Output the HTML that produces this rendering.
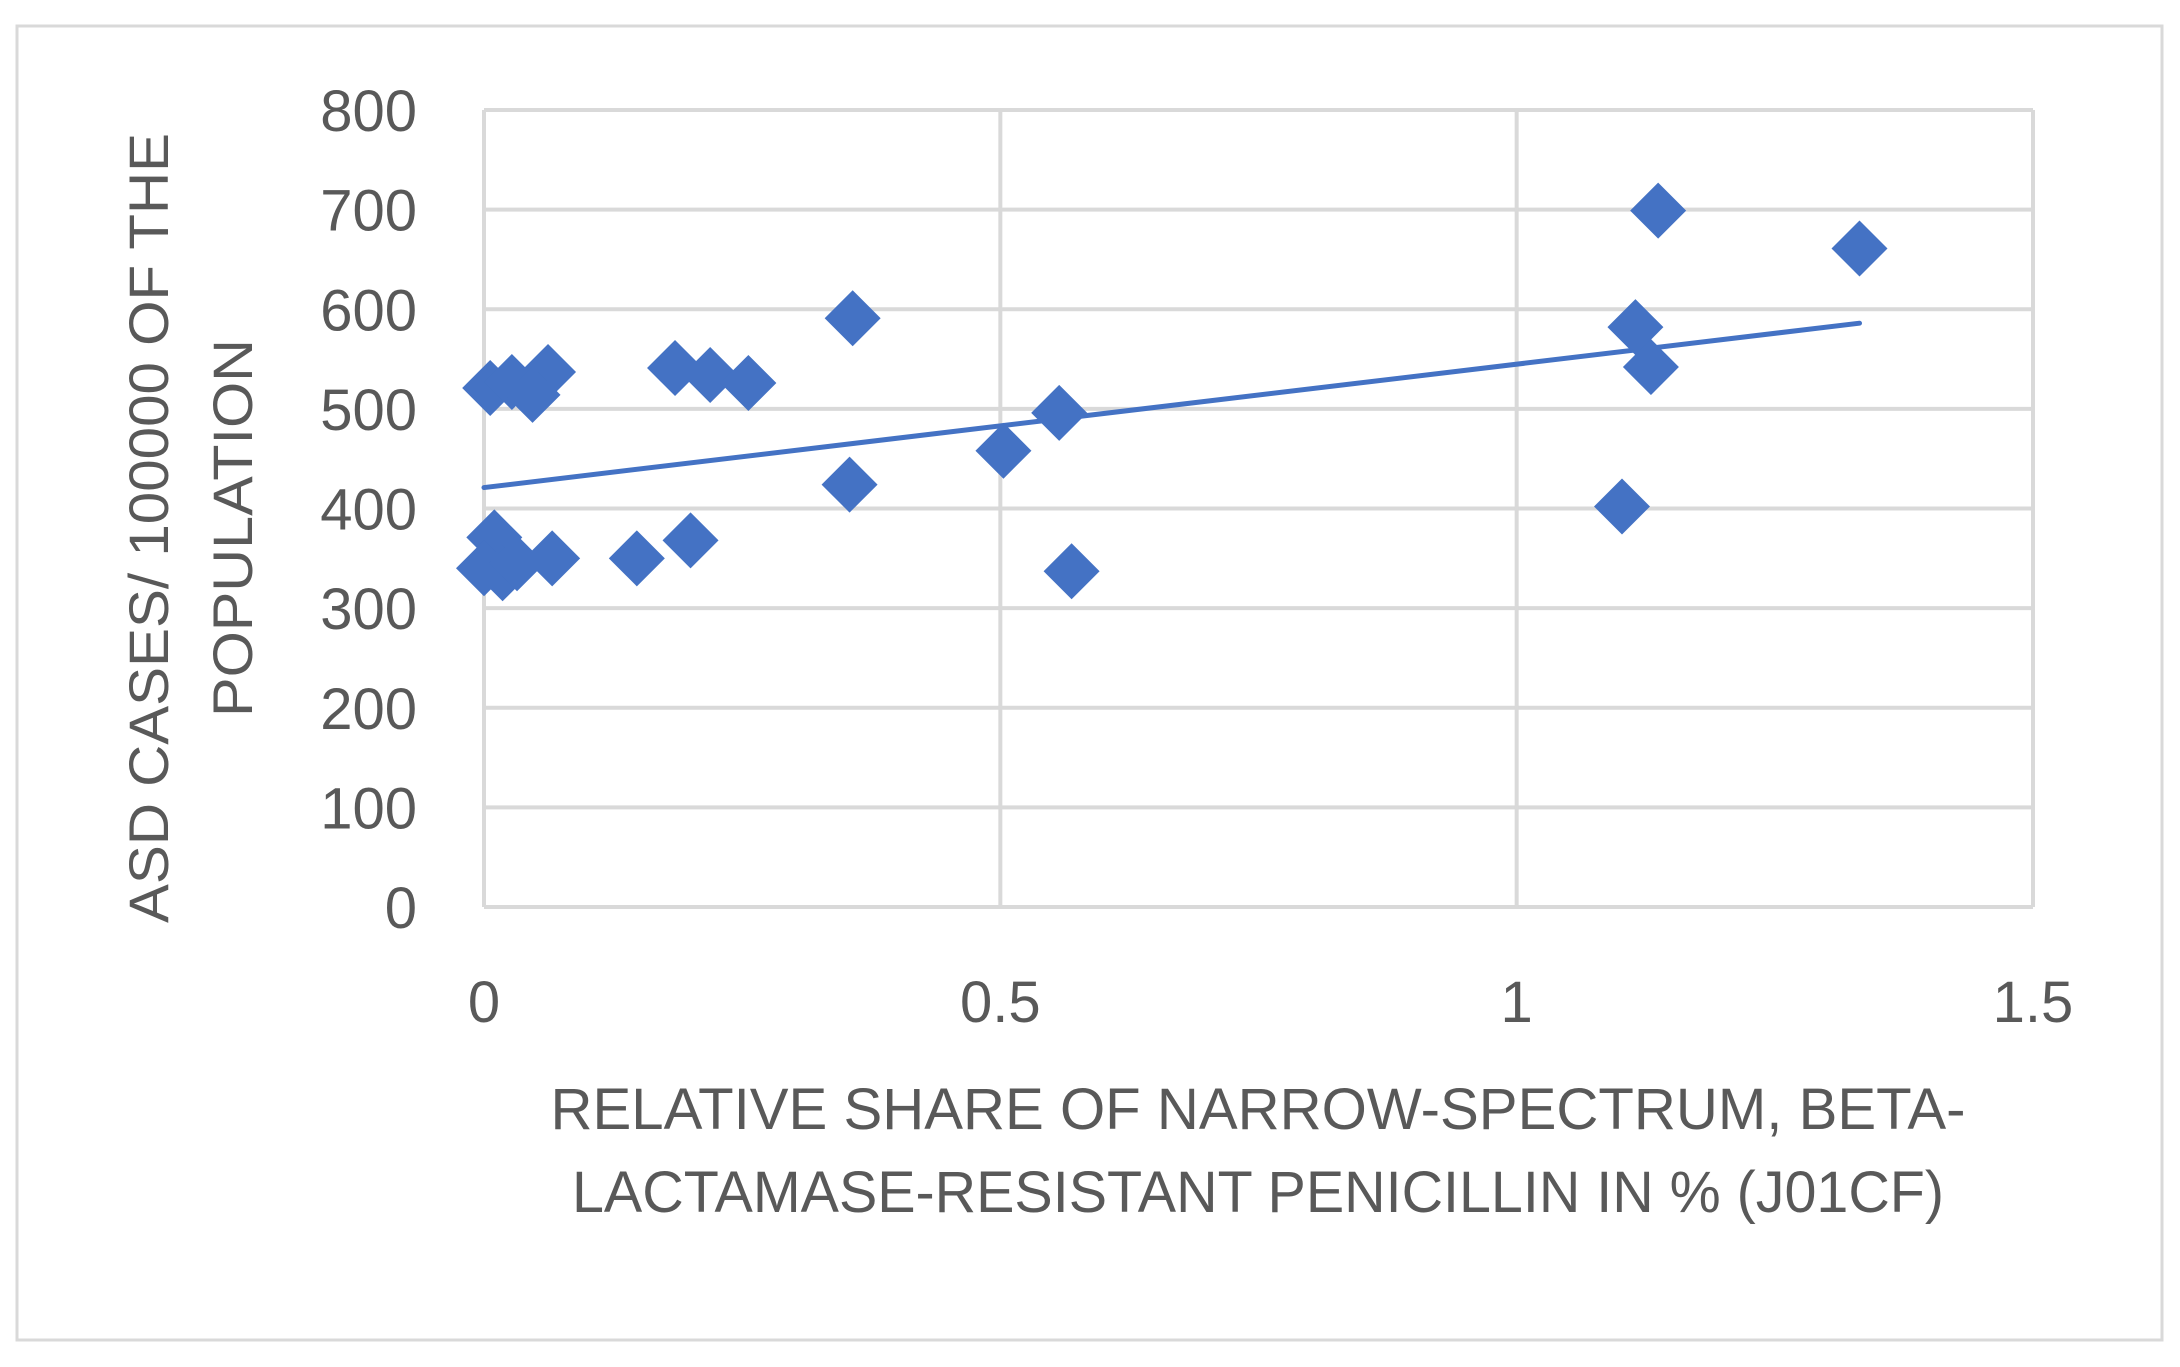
<!DOCTYPE html>
<html><head><meta charset="utf-8"><style>
html,body{margin:0;padding:0;background:#fff;}
svg{display:block;}
text{font-family:"Liberation Sans",sans-serif;fill:#595959;}
</style></head><body>
<svg id="chart" width="2180" height="1367" viewBox="0 0 2180 1367" xmlns="http://www.w3.org/2000/svg">
<rect x="17" y="26" width="2145" height="1314" fill="#fff" stroke="#d9d9d9" stroke-width="3"/>
<g id="grid"></g>
<g id="ticks"></g>
<line id="trend" stroke="#4472c4" stroke-width="5" stroke-linecap="round"/>
<g id="pts"></g>
<text transform="translate(168,528) rotate(-90)" text-anchor="middle" font-size="56" textLength="790" lengthAdjust="spacingAndGlyphs">ASD CASES/ 100000 OF THE</text>
<text transform="translate(252,528) rotate(-90)" text-anchor="middle" font-size="56" textLength="378" lengthAdjust="spacingAndGlyphs">POPULATION</text>
<text x="1258" y="1129" text-anchor="middle" font-size="58" textLength="1415" lengthAdjust="spacingAndGlyphs">RELATIVE SHARE OF NARROW-SPECTRUM,  BETA-</text>
<text x="1258" y="1212" text-anchor="middle" font-size="58" textLength="1372" lengthAdjust="spacingAndGlyphs">LACTAMASE-RESISTANT PENICILLIN IN % (J01CF)</text>
</svg>
<script>
const xVals = [0.006,0.027,0.062,0.047,0.185,0.219,0.256,0.357,0.01,0.0,0.018,0.032,0.066,0.148,0.2,0.354,0.503,0.557,0.569,1.102,1.115,1.137,1.13,1.332];
const yVals = [521,527,537,514,541,534,526,591,371,340,335,345,350,350,368,424,458,496,337,402,582,699,542,661];
const yTicks = [0,100,200,300,400,500,600,700,800];
const xTicks = [0,0.5,1,1.5];
const trendX = [0,1.332];
const trendY = [421,586];
const NS='http://www.w3.org/2000/svg';
const X0=484,X1=2033,Y0=907,Y1=110;
const sx=v=>X0+(v/1.5)*(X1-X0);
const sy=v=>Y0-(v/800)*(Y0-Y1);
const grid=document.getElementById('grid'),ticks=document.getElementById('ticks'),pts=document.getElementById('pts');
yTicks.forEach(t=>{
  const l=document.createElementNS(NS,'line');
  
  
  l.setAttribute('x1',X0);l.setAttribute('x2',X1);l.setAttribute('y1',sy(t));l.setAttribute('y2',sy(t));
  l.setAttribute('stroke','#d9d9d9');l.setAttribute('stroke-width','4');grid.appendChild(l);
  const tx=document.createElementNS(NS,'text');
  
  
  tx.setAttribute('x',417);tx.setAttribute('y',sy(t)+21);tx.setAttribute('text-anchor','end');tx.setAttribute('font-size','58');
  tx.textContent=t;ticks.appendChild(tx);
});
xTicks.forEach(t=>{
  const l=document.createElementNS(NS,'line');
  
  
  l.setAttribute('x1',sx(t));l.setAttribute('x2',sx(t));l.setAttribute('y1',Y1);l.setAttribute('y2',Y0);
  l.setAttribute('stroke','#d9d9d9');l.setAttribute('stroke-width','4');grid.appendChild(l);
  const tx=document.createElementNS(NS,'text');
  
  
  tx.setAttribute('x',sx(t));tx.setAttribute('y',1022);tx.setAttribute('text-anchor','middle');tx.setAttribute('font-size','58');
  tx.textContent=t;ticks.appendChild(tx);
});
xVals.forEach((v,i)=>{
  const cx=sx(v),cy=sy(yVals[i]),r=28;
  const p=document.createElementNS(NS,'polygon');
  
  
  p.setAttribute('points',`${cx},${cy-r} ${cx+r},${cy} ${cx},${cy+r} ${cx-r},${cy}`);
  p.setAttribute('fill','#4472c4');pts.appendChild(p);
});
const tr=document.getElementById('trend');
tr.setAttribute('x1',sx(trendX[0]));tr.setAttribute('y1',sy(trendY[0]));
tr.setAttribute('x2',sx(trendX[1]));tr.setAttribute('y2',sy(trendY[1]));
</script>
</body></html>
